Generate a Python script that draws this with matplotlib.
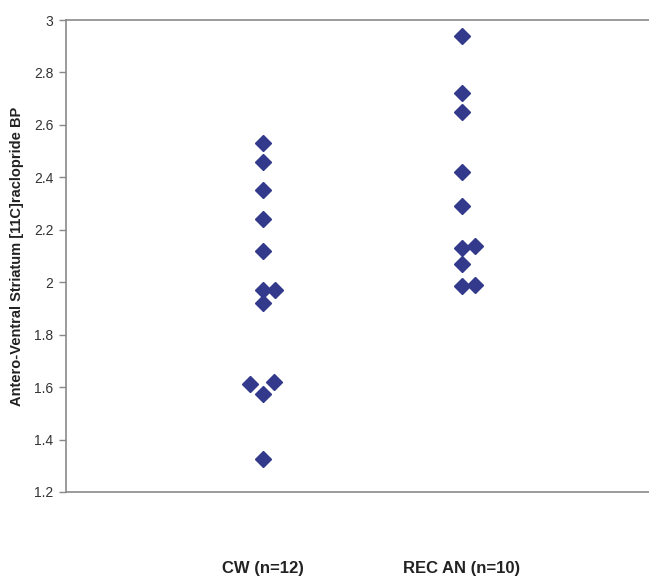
import numpy as np
import matplotlib.pyplot as plt

plt.rcParams['font.family'] = ['Liberation Sans', 'DejaVu Sans']

# group labels and their category positions
groups = ['CW (n=12)', 'REC AN (n=10)']
group_pos = [1, 2]

# CW values (x position = category + small side offset as drawn)
cw_x = [1, 1, 1, 1, 1, 1, 1.06, 1, 0.935, 1.055, 1, 1]
cw_bp = [2.53, 2.46, 2.35, 2.24, 2.12, 1.97, 1.97, 1.92, 1.61, 1.62, 1.575, 1.325]

# REC AN values
rec_x = [2, 2, 2, 2, 2, 2, 2.065, 2, 2, 2.065]
rec_bp = [2.94, 2.72, 2.65, 2.42, 2.29, 2.13, 2.14, 2.07, 1.985, 1.99]

fig = plt.figure(figsize=(6.49, 5.77), dpi=100)
ax = fig.add_axes([66/649, 85/577, 1 - 66/649, 472/577])

col = '#333a8c'
ax.plot(cw_x, cw_bp, 'D', ms=8.6, color=col, mec=col)
ax.plot(rec_x, rec_bp, 'D', ms=8.6, color=col, mec=col)

ax.set_xlim(0.012, 0.012 + 583/199)
ax.set_ylim(1.2, 3)
ax.set_yticks(np.arange(1.2, 3.01, 0.2))
ax.set_yticklabels(['1.2', '1.4', '1.6', '1.8', '2', '2.2', '2.4', '2.6', '2.8', '3'])

ax.set_xticks(group_pos)
ax.set_xticklabels(groups, fontsize=12, fontweight='bold', color='#222222')
ax.tick_params(axis='x', length=0, pad=50)
ax.tick_params(axis='y', length=5, width=1, color='#888888', labelsize=10,
               labelcolor='#333333', pad=4)

ax.spines['right'].set_visible(False)
for s in ['top', 'bottom', 'left']:
    ax.spines[s].set_color('#8a8a8a')
    ax.spines[s].set_linewidth(1.2)

ax.set_ylabel('Antero-Ventral Striatum [11C]raclopride BP', fontsize=10.5,
              fontweight='bold', color='#222222', labelpad=7)

plt.savefig('out.png', dpi=100)
